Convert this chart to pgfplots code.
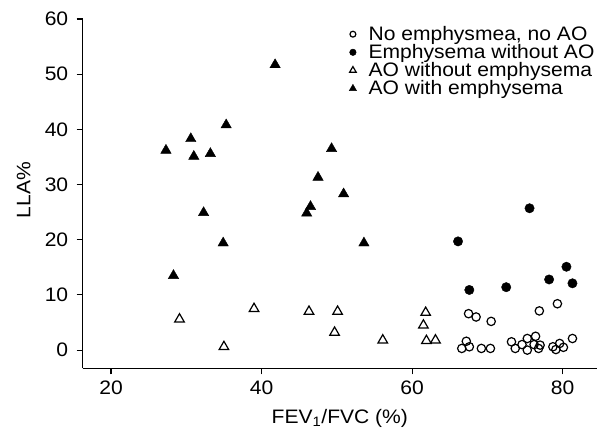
\documentclass[border=0pt]{standalone}
\usepackage{fontspec}
\setmainfont{Liberation Sans}
\usepackage{pgfplots}
\pgfplotsset{compat=1.18}
\newcommand\sx[1]{\scalebox{1.08}[1]{#1}}

\begin{document}
\begin{tikzpicture}
\useasboundingbox (-82.7bp,-70.7bp) rectangle (514.3bp,368.3bp);
\begin{axis}[
scale only axis,
width=514.3bp,
height=349.3bp,
xmin=16.24, xmax=84.56,
ymin=-3.3, ymax=60,
axis x line*=bottom,
axis y line*=left,
axis line style={line width=1.2bp, -},
tick align=outside,
major tick length=6bp,
tick style={line width=1.1bp, black},
xtick={20,40,60,80},
ytick={0,10,20,30,40,50,60},
/pgf/number format/assume math mode=true,
font=\fontsize{19.5bp}{20bp}\selectfont,
tick label style={font=\fontsize{19.5bp}{20bp}\selectfont},
xticklabel={\sx{\pgfmathprintnumber{\tick}}},
yticklabel={\sx{\pgfmathprintnumber{\tick}}},
yticklabel style={xshift=-5bp},
xticklabel style={yshift=-3bp},
xlabel={\sx{FEV\textsubscript{1}/FVC (\%)}},
ylabel={\sx{LLA\%}},
every axis x label/.style={at={(axis description cs:0.5,0)}, yshift=-50bp, anchor=center},
every axis y label/.style={at={(axis description cs:0,0.51)}, xshift=-59bp, rotate=90, anchor=center},
legend style={draw=none, fill=none, at={(axis description cs:0.516,0.988)}, anchor=north west,
  font=\fontsize{19.5bp}{20bp}\selectfont, row sep=-1.5bp, inner sep=1bp,
  /tikz/every odd column/.append style={column sep=10bp}},
legend cell align=left,
legend image post style={scale=0.7},
clip=false,
]
% No emphysema, no AO
\addplot [only marks, mark=o, mark size=4.2bp, line width=1.2bp, black]
table {
67.5 6.6
68.5 6.0
70.5 5.2
76.9 7.1
79.3 8.4
81.3 2.1
67.2 1.6
67.6 0.6
66.6 0.3
69.2 0.3
70.4 0.3
73.2 1.5
73.7 0.3
74.6 1.0
75.3 2.1
75.3 0.0
76.4 2.5
76.2 1.0
77.0 0.9
76.8 0.3
78.7 0.6
79.6 1.2
80.1 0.5
79.1 0.1
};
\addlegendentry{\sx{No emphysmea, no AO}}
% Emphysema without AO
\addplot [only marks, mark=*, mark size=4.7bp, black]
table {
75.6 25.7
66.1 19.7
80.5 15.1
78.2 12.8
81.3 12.1
72.5 11.4
67.6 10.9
};
\addlegendentry{\sx{Emphysema without AO}}
% AO without emphysema
\addplot [only marks, mark=triangle, mark size=5.5bp, line width=1.2bp, black]
table {
29.1 5.6
39.0 7.5
35.0 0.6
46.3 7.0
50.1 7.0
49.7 3.2
56.1 1.8
61.8 6.8
61.5 4.5
61.9 1.7
63.1 1.8
};
\addlegendentry{\sx{AO without emphysema}}
% AO with emphysema
\addplot [only marks, mark=triangle*, mark size=6bp, black]
table {
27.3 36.2
30.6 38.3
31.0 35.1
33.2 35.6
35.3 40.8
41.8 51.7
32.3 24.9
34.9 19.4
28.3 13.5
49.3 36.5
47.5 31.3
50.9 28.3
46.5 26.0
46.0 24.8
53.6 19.4
};
\addlegendentry{\sx{AO with emphysema}}
\end{axis}
\end{tikzpicture}
\end{document}
